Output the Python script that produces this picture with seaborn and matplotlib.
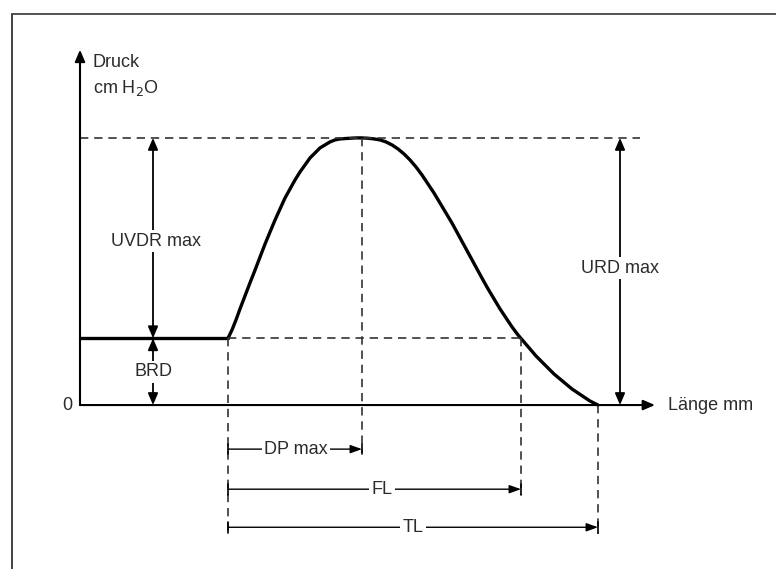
import matplotlib
matplotlib.use("Agg")
import matplotlib.pyplot as plt
import seaborn as sns
import pandas as pd

# ---- data (length in mm, pressure in cm H2O) ----
curve_x = [14.8, 15.2, 15.6, 16.0, 16.5, 17.0, 17.5, 18.0, 18.5, 19.0,
           19.5, 20.0, 20.5, 21.0, 21.5, 22.0, 22.5, 23.0, 23.5, 24.0,
           24.5, 25.0, 25.5, 26.0, 26.5, 27.0, 27.6, 28.2,
           28.8, 29.4, 30.0, 30.6, 31.2, 31.8, 32.4, 33.0, 33.6, 34.2,
           34.8, 35.4, 36.0, 36.6, 37.2, 37.8, 38.4, 39.0, 39.6, 40.2,
           40.8, 41.4, 42.0, 42.6, 43.2, 43.8, 44.4, 45.0, 45.6, 46.2,
           46.8, 47.4, 48.0, 48.6, 49.2, 49.8, 50.4, 51.0, 51.8]
curve_y = [20.0, 22.5, 25.5, 28.8, 32.7, 36.6, 40.4, 44.3, 48.2, 51.8,
           55.4, 58.7, 62.0, 64.7, 67.4, 69.8, 71.9, 74.0, 75.5, 77.0,
           77.9, 78.8, 79.4, 79.7, 79.8, 79.9, 80.0, 80.0,
           79.9, 79.7, 79.4, 78.8, 77.9, 76.7, 75.2, 73.4, 71.3, 68.9,
           66.2, 63.5, 60.5, 57.5, 54.5, 51.2, 47.9, 44.6, 41.3, 38.0,
           34.8, 31.8, 28.8, 26.1, 23.4, 21.0, 18.9, 16.8, 14.7, 12.9,
           11.1, 9.3, 7.8, 6.3, 4.8, 3.6, 2.4, 1.2, 0.0]
base_x = [0.0, 14.8]
base_y = [20.0, 20.0]

BRD = 20.0          # resting pressure
PEAK = 80.0         # maximal pressure
X_START = 14.8      # start of rise
X_PEAK = 28.2       # position of max
X_FL = 44.1         # end of functional length
X_TL = 51.8         # end of total length

labels = {"uvdr": "UVDR max", "brd": "BRD", "urd": "URD max",
          "dp": "DP max", "fl": "FL", "tl": "TL"}

sns.set_style("white")
plt.rcParams['font.family'] = ['Liberation Sans', 'DejaVu Sans']

fig = plt.figure(figsize=(7.76, 5.69), dpi=100)
ax = fig.add_axes([0, 0, 1, 1])
ax.set_xlim(-8.0, 69.6)
ax.set_ylim(-49.1, 121.3)
ax.axis("off")

TXT = "#2b2b2b"
FS = 13

df_curve = pd.DataFrame({"x": curve_x, "y": curve_y})
df_base = pd.DataFrame({"x": base_x, "y": base_y})
sns.lineplot(data=df_curve, x="x", y="y", ax=ax, color="black", lw=2.4,
             sort=False, estimator=None)
sns.lineplot(data=df_base, x="x", y="y", ax=ax, color="black", lw=2.4,
             sort=False, estimator=None)

# frame
ax.plot([-6.8, -6.8], [-49.1, 117.2], color="#333333", lw=1.3, clip_on=False)
ax.plot([-6.8, 69.6], [117.2, 117.2], color="#444444", lw=1.3, clip_on=False)

head = dict(arrowstyle="-|>,head_length=0.7,head_width=0.3", color="black",
            lw=1.5, shrinkA=0, shrinkB=0)
# axes
ax.annotate("", xy=(0, 106.4), xytext=(0, 0), arrowprops=head)
ax.annotate("", xy=(57.5, 0), xytext=(0, 0), arrowprops=head)
ax.text(-0.8, 0, "0", ha="right", va="center", fontsize=FS, color=TXT)
ax.text(58.8, 0, "Länge mm", ha="left", va="center", fontsize=FS, color=TXT)
ax.text(1.3, 102.5, "Druck", ha="left", va="center", fontsize=FS, color=TXT)
ax.text(1.3, 95.0, "cm H$_2$O", ha="left", va="center", fontsize=FS, color=TXT)

# dashed guides
dash = dict(color="#333333", lw=1.2, ls=(0, (5, 3.5)))
ax.plot([0, 56.0], [PEAK, PEAK], **dash)
ax.plot([X_START, 44.5], [BRD, BRD], **dash)
ax.plot([X_START, X_START], [BRD, -38.0], **dash)
ax.plot([X_PEAK, X_PEAK], [PEAK, -14.5], **dash)
ax.plot([X_FL, X_FL], [BRD, -27.0], **dash)
ax.plot([X_TL, X_TL], [0, -38.5], **dash)

dbl = dict(arrowstyle="<|-|>,head_length=0.7,head_width=0.3", color="black",
           lw=1.3, shrinkA=0, shrinkB=0)
box = dict(facecolor="white", edgecolor="none", pad=1.5)

# UVDR max
ax.annotate("", xy=(7.3, PEAK), xytext=(7.3, BRD), arrowprops=dbl)
ax.text(7.6, 49.1, labels["uvdr"], ha="center", va="center", fontsize=FS,
        color=TXT, bbox=box)
# BRD
ax.annotate("", xy=(7.3, BRD), xytext=(7.3, 0), arrowprops=dbl)
ax.text(7.3, 9.9, labels["brd"], ha="center", va="center", fontsize=FS,
        color=TXT, bbox=box)
# URD max
ax.annotate("", xy=(54.0, PEAK), xytext=(54.0, 0), arrowprops=dbl)
ax.text(54.0, 41.0, labels["urd"], ha="center", va="center", fontsize=FS,
        color=TXT, bbox=box)

# horizontal length arrows
def length_arrow(y, x0, x1, label, xt):
    ax.annotate("", xy=(x1, y), xytext=(x0, y),
                arrowprops=dict(arrowstyle="-|>,head_length=0.7,head_width=0.25",
                                color="black", lw=1.0, shrinkA=0, shrinkB=0))
    ax.plot([x0, x0], [y - 1.6, y + 1.6], color="black", lw=1.2)
    ax.plot([x1, x1], [y - 1.6, y + 1.6], color="black", lw=1.2)
    ax.text(xt, y, label, ha="center", va="center", fontsize=FS, color=TXT,
            bbox=box)

length_arrow(-13.2, X_START, X_PEAK, labels["dp"], 21.6)
length_arrow(-25.2, X_START, X_FL, labels["fl"], 30.2)
length_arrow(-36.6, X_START, X_TL, labels["tl"], 33.3)

fig.savefig("out.png", dpi=100, facecolor="white")
